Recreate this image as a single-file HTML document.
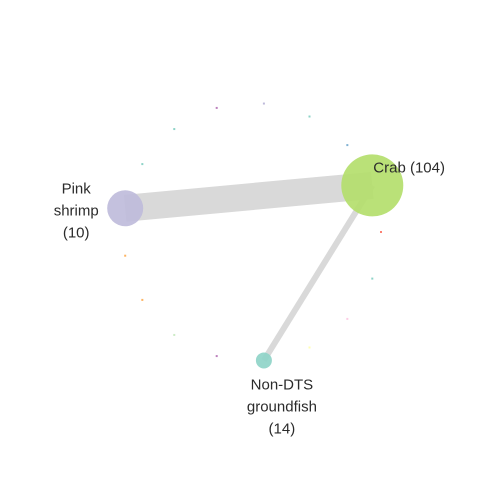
<!DOCTYPE html>
<html><head><meta charset="utf-8"><style>
html,body{margin:0;padding:0;background:#fff;}
svg{display:block;font-family:"Liberation Sans",sans-serif;}
</style></head><body>
<svg id="chart" width="480" height="480"></svg>
<script>
const nodeNames = ["n-red","n-teal-a","n-pink","n-yellow","Non-DTS groundfish","n-purple-a","n-lightgreen","n-orange-a","n-orange-b","Pink shrimp","n-teal-b","n-teal-c","n-purple-b","n-lavender","n-teal-d","n-blue","Crab"];
const nodeColors = ["#fb8072","#8dd3c7","#fccde5","#ffffb3","#8dd3c7","#bc80bd","#ccebc5","#fdb462","#fdb462","#bebada","#8dd3c7","#8dd3c7","#bc80bd","#bebada","#8dd3c7","#80b1d3","#b3de69"];
const nodeSize = [1,1,1,1,8,1,1,1,1,18,1,1,1,1,1,1,31];
const edgeFrom = [16,16];
const edgeTo = [9,4];
const edgeWeight = [27,6];
const labels = [{i:16,lines:["Crab (104)"],dx:1,dy:-13,anchor:"start"},
  {i:9,lines:["Pink","shrimp","(10)"],dx:-49,dy:-15,anchor:"middle"},
  {i:4,lines:["Non-DTS","groundfish","(14)"],dx:18,dy:29,anchor:"middle"}];

const NS="http://www.w3.org/2000/svg";
const svg=document.getElementById('chart');
const cx=252, cy=232, R=129;
function px(i){return cx+R*Math.cos(i*2*Math.PI/nodeNames.length);}
function py(i){return cy+R*Math.sin(i*2*Math.PI/nodeNames.length);}
for(let k=0;k<edgeFrom.length;k++){
  const l=document.createElementNS(NS,'line');
  l.setAttribute('x1',px(edgeFrom[k]));l.setAttribute('y1',py(edgeFrom[k]));
  l.setAttribute('x2',px(edgeTo[k]));l.setAttribute('y2',py(edgeTo[k]));
  l.setAttribute('stroke','#d9d9d9');l.setAttribute('stroke-width',edgeWeight[k]);
  
  
  svg.appendChild(l);
}
for(let i=0;i<nodeNames.length;i++){
  let el;
  if(nodeSize[i]<=1){
    el=document.createElementNS(NS,'rect');
    el.setAttribute('x',px(i)-1);el.setAttribute('y',py(i)-1);
    el.setAttribute('width',2);el.setAttribute('height',2);
  }else{
    el=document.createElementNS(NS,'circle');
    el.setAttribute('cx',px(i));el.setAttribute('cy',py(i));el.setAttribute('r',nodeSize[i]);
    el.setAttribute('fill-opacity','0.9');
  }
  el.setAttribute('fill',nodeColors[i]);
  
  
  svg.appendChild(el);
}
labels.forEach(lb=>{
  const t=document.createElementNS(NS,'text');
  t.setAttribute('x',px(lb.i)+lb.dx);t.setAttribute('y',py(lb.i)+lb.dy);
  t.setAttribute('font-size','15');t.setAttribute('fill','#2b2b2b');
  t.setAttribute('text-anchor',lb.anchor);
  lb.lines.forEach((s,j)=>{
    const ts=document.createElementNS(NS,'tspan');
    ts.setAttribute('x',px(lb.i)+lb.dx);ts.setAttribute('dy',j?22:0);
    ts.textContent=s;t.appendChild(ts);
  });
  
  
  svg.appendChild(t);
});
</script>
</body></html>
